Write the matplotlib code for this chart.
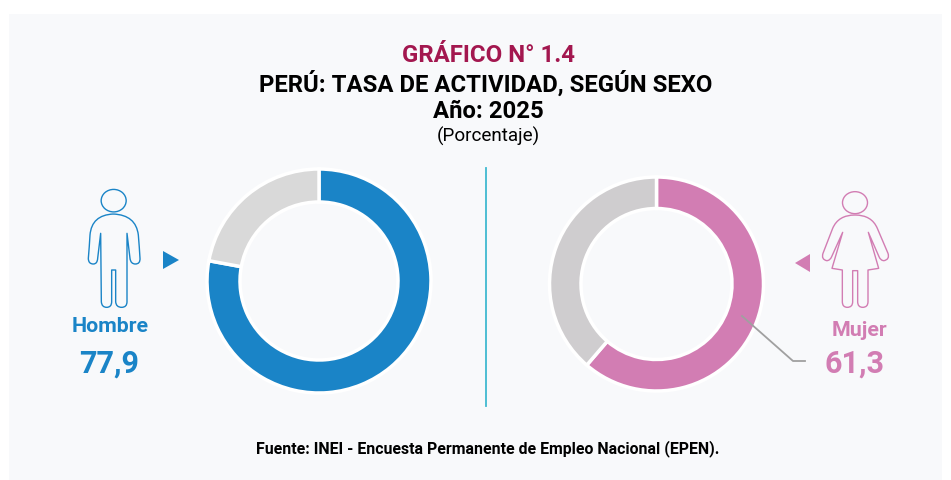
import matplotlib
matplotlib.use("Agg")
import matplotlib.pyplot as plt
from matplotlib.patches import Ellipse, PathPatch, Polygon, Rectangle
from matplotlib.path import Path

plt.rcParams['font.family'] = ['Roboto', 'DejaVu Sans']

# Data
hombre = [77.9, 22.1]
mujer = [61.3, 38.7]
hombre_label = "77,9"
mujer_label = "61,3"
title_lines = ["GRÁFICO N° 1.4", "PERÚ: TASA DE ACTIVIDAD, SEGÚN SEXO", "Año: 2025"]
subtitle = "(Porcentaje)"
source = "Fuente: INEI - Encuesta Permanente de Empleo Nacional (EPEN)."

BLUE = "#1a84c7"
PINK = "#d27db3"
BG = "#f8f9fb"
W, H = 951, 480

fig = plt.figure(figsize=(W / 100, H / 100), dpi=100, facecolor="white")
ax = fig.add_axes([0, 0, 1, 1])
ax.set_xlim(0, W)
ax.set_ylim(H, 0)
ax.axis("off")
ax.add_patch(Rectangle((9, 14), 933, 466, fc=BG, ec="none"))

# Titles
ax.text(488, 55, title_lines[0], color="#a3174f", fontsize=17.3, fontweight="bold", ha="center", va="center")
ax.text(485.5, 84, title_lines[1], color="black", fontsize=17.2, fontweight="bold", ha="center", va="center")
ax.text(488, 111, title_lines[2], color="black", fontsize=17.2, fontweight="bold", ha="center", va="center")
ax.text(488, 136, subtitle, color="black", fontsize=13.6, ha="center", va="center")
ax.text(488, 449, source, color="black", fontsize=11.4, fontweight="bold", ha="center", va="center")

# Divider
ax.plot([486, 486], [168, 406], color="#3fb9d0", lw=1.3)


def donut(values, colors, cx, cy, r, width):
    a = fig.add_axes([(cx - r) / W, 1 - (cy + r) / H, 2 * r / W, 2 * r / H])
    a.pie(values, colors=colors, startangle=90, counterclock=False, radius=1,
          wedgeprops=dict(width=width / r, edgecolor="white", linewidth=2.5))
    a.set_xlim(-1, 1)
    a.set_ylim(-1, 1)
    a.set_aspect("equal")
    a.axis("off")
    a.patch.set_alpha(0)


donut(hombre, [BLUE, "#d9d9d9"], 319, 281, 112, 33)
donut(mujer, [PINK, "#cfcdcf"], 656.5, 284, 107, 31.5)


def outline(pts, ox, oy, color):
    # pts are (code, x, y) in the zoomed crop, 3x
    verts = [(ox + x / 3, oy + y / 3) for _, x, y in pts]
    codes = [c for c, _, _ in pts]
    ax.add_patch(PathPatch(Path(verts, codes), fc="none", ec=color, lw=1.0, joinstyle="round"))


M, L, C = Path.MOVETO, Path.LINETO, Path.CURVE3

# Man icon
ax.add_patch(Ellipse((60 + 161 / 3, 170 + 92 / 3), 25, 22.5, fc="none", ec=BLUE, lw=1.0))
man = [(M, 160, 132), (C, 95, 135), (C, 90, 195), (C, 88, 230), (C, 85, 265), (C, 85, 282), (C, 100, 282),
       (C, 112, 282), (C, 113, 265), (L, 122, 190), (L, 124, 395), (C, 125, 412), (C, 140, 412), (C, 155, 412),
       (C, 155, 395), (L, 155, 300), (L, 167, 300), (L, 167, 395), (C, 168, 412), (C, 185, 412), (C, 201, 412),
       (C, 201, 395), (L, 201, 190), (L, 210, 265), (C, 212, 282), (C, 226, 282), (C, 241, 282), (C, 240, 265),
       (C, 238, 230), (C, 235, 195), (C, 228, 135), (C, 160, 132)]
outline(man, 60, 170, BLUE)

# Woman icon
ax.add_patch(Ellipse((730 + 375 / 3, 170 + 98 / 3), 25, 22, fc="none", ec=PINK, lw=1.0))
woman = [(M, 375, 135), (C, 325, 135), (C, 308, 175), (L, 279, 250), (C, 273, 268), (C, 290, 272), (C, 300, 272),
         (C, 305, 260), (L, 338, 187), (L, 306, 295), (L, 337, 300), (L, 337, 395), (C, 337, 412), (C, 352, 412),
         (C, 368, 412), (C, 368, 395), (L, 368, 302), (L, 383, 302), (L, 383, 395), (C, 383, 412), (C, 398, 412),
         (C, 414, 412), (C, 414, 395), (L, 414, 300), (L, 446, 295), (L, 415, 187), (L, 447, 260), (C, 452, 272),
         (C, 462, 272), (C, 480, 268), (C, 474, 250), (L, 442, 175), (C, 425, 135), (C, 375, 135)]
outline(woman, 730, 170, PINK)

# Arrows
ax.add_patch(Polygon([(163, 251), (179, 260), (163, 269)], fc=BLUE, ec="none"))
ax.add_patch(Polygon([(810, 254), (795, 263), (810, 272)], fc=PINK, ec="none"))

# Labels
ax.text(110, 327, "Hombre", color=BLUE, fontsize=15.4, fontweight="bold", ha="center", va="center")
ax.text(109, 364, hombre_label, color=BLUE, fontsize=22, fontweight="bold", ha="center", va="center")
ax.text(859, 330, "Mujer", color=PINK, fontsize=15.4, fontweight="bold", ha="center", va="center")
ax.text(854, 364, mujer_label, color=PINK, fontsize=22, fontweight="bold", ha="center", va="center")

# Leader line sits above the donut axes
fig.add_artist(plt.Line2D([742 / W, 793 / W, 805 / W], [1 - 316 / H, 1 - 361 / H, 1 - 361 / H],
                          color="#a0a0a0", lw=1.3))

fig.savefig("out.png", dpi=100)
